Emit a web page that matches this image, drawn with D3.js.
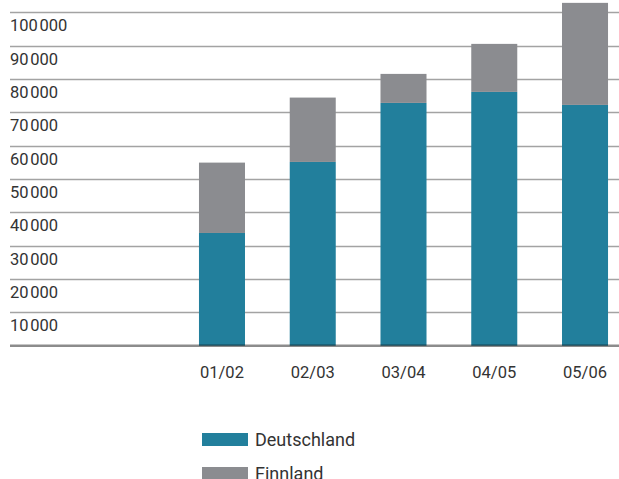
<!DOCTYPE html>
<html>
<head>
  <meta charset="UTF-8">
  <title>Deutschland / Finnland</title>
  <script src="https://d3js.org/d3.v7.min.js"></script>
  <style>
    body { margin: 0; background: #fff; }
    text { font-family: Roboto, "Liberation Sans", sans-serif; fill: #333; }
  </style>
</head>
<body>
<script>
// data
var categories = ["01/02", "02/03", "03/04", "04/05", "05/06"];
var deutschland = [33800, 55100, 72800, 76100, 72200];
var finnland = [21100, 19300, 8700, 14400, 30600];
var yTicks = [10000, 20000, 30000, 40000, 50000, 60000, 70000, 80000, 90000, 100000];
var seriesNames = ["Deutschland", "Finnland"];
var colors = ["#227f9c", "#8b8c90"];

var width = 619, height = 479;
var plotLeft = 10, plotRight = 619;
var plotBase = 345.7, plotTop = 12.2;

var svg = d3.select("body").append("svg")
  .attr("width", width)
  .attr("height", height);

var y = d3.scaleLinear().domain([0, 100000]).range([plotBase, plotTop]);
var x = d3.scaleBand().domain(categories).range([176.6, 630.4]).paddingInner(0.493).paddingOuter(0.2465);

// hair space as thousands separator
var fmt = d3.formatLocale({ decimal: ",", thousands: "\u200A", grouping: [3], currency: ["", "€"] }).format(",");

//gridlines
svg.selectAll(".grid")
  .data(yTicks)
  .enter()
  .append("line")
  .attr("x1", plotLeft)
  .attr("x2", plotRight)
  .attr("y1", d => Math.round(y(d)) + 0.5)
  .attr("y2", d => Math.round(y(d)) + 0.5)
  .attr("stroke", "#a3a3a3")
  .attr("stroke-width", 1.5);

//tick labels
svg.selectAll(".ylab")
  .data(yTicks)
  .enter()
  .append("text")
  .attr("x", plotLeft)
  .attr("y", d => y(d) + 19)
  .style("font-size", "16.5px")
  .text(d => fmt(d));

//stack
var rows = categories.map((c, i) => ({ cat: c, Deutschland: deutschland[i], Finnland: finnland[i] }));
var stacked = d3.stack().keys(seriesNames)(rows);

svg.selectAll(".layer")
  .data(stacked)
  .enter()
  .append("g")
  .attr("fill", (d, i) => colors[i])
  .selectAll("rect")
  .data(d => d)
  .enter()
  .append("rect")
  .attr("x", d => x(d.data.cat))
  .attr("width", x.bandwidth())
  .attr("y", d => y(d[1]))
  .attr("height", d => y(d[0]) - y(d[1]));

//baseline
svg.append("line")
  .attr("x1", plotLeft)
  .attr("x2", plotRight)
  .attr("y1", plotBase)
  .attr("y2", plotBase)
  .attr("stroke", "rgba(0,0,0,0.45)")
  .attr("stroke-width", 2.5);

//x labels
svg.selectAll(".xlab")
  .data(categories)
  .enter()
  .append("text")
  .attr("x", d => x(d) + x.bandwidth() / 2)
  .attr("y", plotBase + 32)
  .attr("text-anchor", "middle")
  .style("font-size", "16.5px")
  .text(d => d);

//legend
var legend = svg.selectAll(".legend")
  .data(seriesNames)
  .enter()
  .append("g")
  .attr("transform", (d, i) => `translate(202,${433 + i * 34})`);

legend.append("rect")
  .attr("width", 46)
  .attr("height", 13)
  .attr("fill", (d, i) => colors[i]);

legend.append("text")
  .attr("x", 53)
  .attr("y", 13)
  .style("font-size", "18px")
  .text(d => d);
</script>
</body>
</html>
